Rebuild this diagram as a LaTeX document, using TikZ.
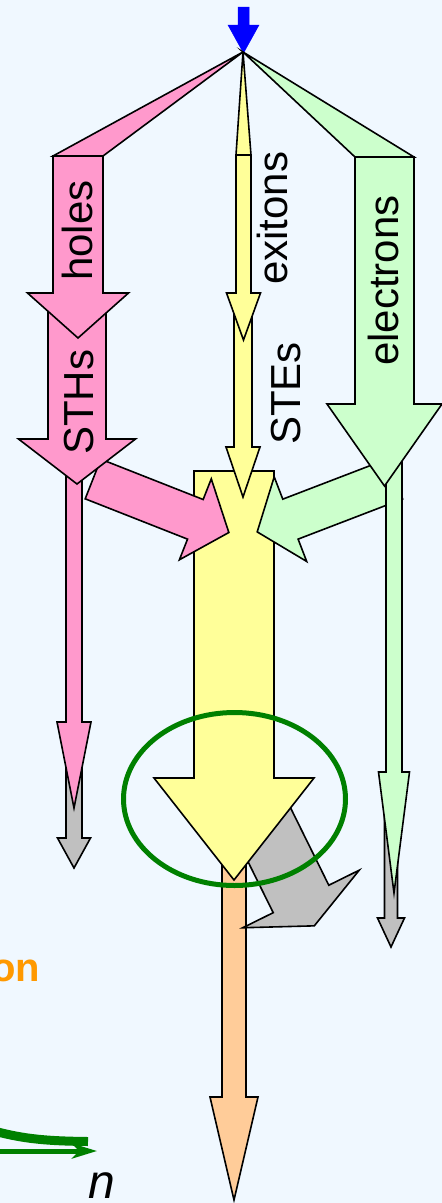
\documentclass[tikz,border=0pt]{standalone}
\usepackage{fontspec}
\setmainfont{Liberation Sans}
\usetikzlibrary{arrows.meta}

\definecolor{bg}{HTML}{F0F8FF}
\definecolor{pump}{HTML}{0000FF}
\definecolor{hole}{HTML}{FF99CC}
\definecolor{exciton}{HTML}{FFFF99}
\definecolor{electron}{HTML}{CCFFCC}
\definecolor{emission}{HTML}{FFCC99}
\definecolor{loss}{HTML}{C0C0C0}
\definecolor{ring}{HTML}{008000}
\definecolor{ontext}{HTML}{FF9900}

% block arrow: style, start x, start y, angle, shaft length, shaft half width, head half width, head length
\newcommand{\blockarrow}[8]{%
  \begin{scope}[shift={(#2,#3)}, rotate=#4]
    \filldraw[arrowbody, #1] (0,-#6) -- (#5,-#6) -- (#5,-#7) -- ({#5+#8},0)
      -- (#5,#7) -- (#5,#6) -- (0,#6) -- cycle;
  \end{scope}}

\begin{document}
\begin{tikzpicture}[x=1pt, y=-1pt,
  arrowbody/.style={draw=black, line width=1.6pt, line join=miter},
  lbl/.style={inner sep=0pt, rotate=90, anchor=base west, font=\fontsize{42}{50}\selectfont}]
  \useasboundingbox (0,0) rectangle (442,1203);
  \clip (0,0) rectangle (442,1203);
  \fill[bg] (0,0) rectangle (442,1203);

  \blockarrow{fill=pump, draw=pump, line width=0.5pt}{243.5}{7}{-90}{18}{5.5}{15.5}{28}
  \coordinate (apex) at (243,52);

  \filldraw[arrowbody, fill=hole] (apex) -- (53,156) -- (103,156) -- cycle;
  \filldraw[arrowbody, fill=exciton] (apex) -- (236,155) -- (251,155) -- cycle;
  \filldraw[arrowbody, fill=electron] (apex) -- (355,157) -- (414,157) -- cycle;

  \blockarrow{fill=emission}{234}{860}{-90}{237}{12}{24}{103}
  \blockarrow{fill=loss}{256.7}{809.3}{-63.7}{100}{31}{65}{30}
  \blockarrow{fill=exciton}{234}{471}{-90}{307}{40}{80}{102}

  \blockarrow{fill=hole}{93}{479}{-21.5}{110}{21.3}{43.5}{36}
  \blockarrow{fill=electron}{395}{479}{-159}{112}{21.4}{45.3}{35.6}

  \blockarrow{fill=loss}{74}{730}{-90}{108}{8}{16.5}{30}
  \blockarrow{fill=hole}{74}{440}{-90}{282}{8}{17}{86}
  \blockarrow{fill=hole}{77}{300}{-90}{139}{29}{58.5}{45}
  \blockarrow{fill=hole}{78}{156}{-90}{137}{25}{50.5}{45}

  \blockarrow{fill=exciton}{243}{296}{-90}{151}{9}{17}{50}
  \blockarrow{fill=exciton}{243.5}{155}{-90}{138}{7.5}{17}{47}

  \blockarrow{fill=loss}{391}{790}{-90}{128}{6.5}{13.5}{29}
  \blockarrow{fill=electron}{394}{440}{-90}{332}{8}{15.5}{121}
  \blockarrow{fill=electron}{384.5}{157}{-90}{247}{29.5}{57.5}{82}

  \node[lbl] (holes) at (92,281) {holes};
  \node[lbl] (sths) at (93,455) {STHs};
  \node[lbl] (exitons) at (287,285) {exitons};
  \node[lbl] (stes) at (300,445) {STEs};
  \node[lbl] (electrons) at (398,366) {electrons};

  \draw[ring, line width=5pt] (234.5,799) ellipse [x radius=111pt, y radius=86.5pt];

  \node[anchor=base east, inner sep=0pt, text=ontext, font=\bfseries\fontsize{40}{40}\selectfont] (on) at (40.5,981) {on};
  \draw[ring, line width=9pt] (-10,1130) .. controls (20,1138) and (40,1141) .. (88,1141.5);
  \coordinate (axisstart) at (-5,1151);
  \coordinate (axisend) at (97,1151);
  \draw[ring, line width=5pt, -{Stealth[length=25pt, width=15pt, inset=7pt]}] (axisstart) -- (axisend);
  \node[anchor=base west, inner sep=0pt, font=\itshape\fontsize{48}{48}\selectfont] (n) at (88,1198) {n};
\end{tikzpicture}
\end{document}
